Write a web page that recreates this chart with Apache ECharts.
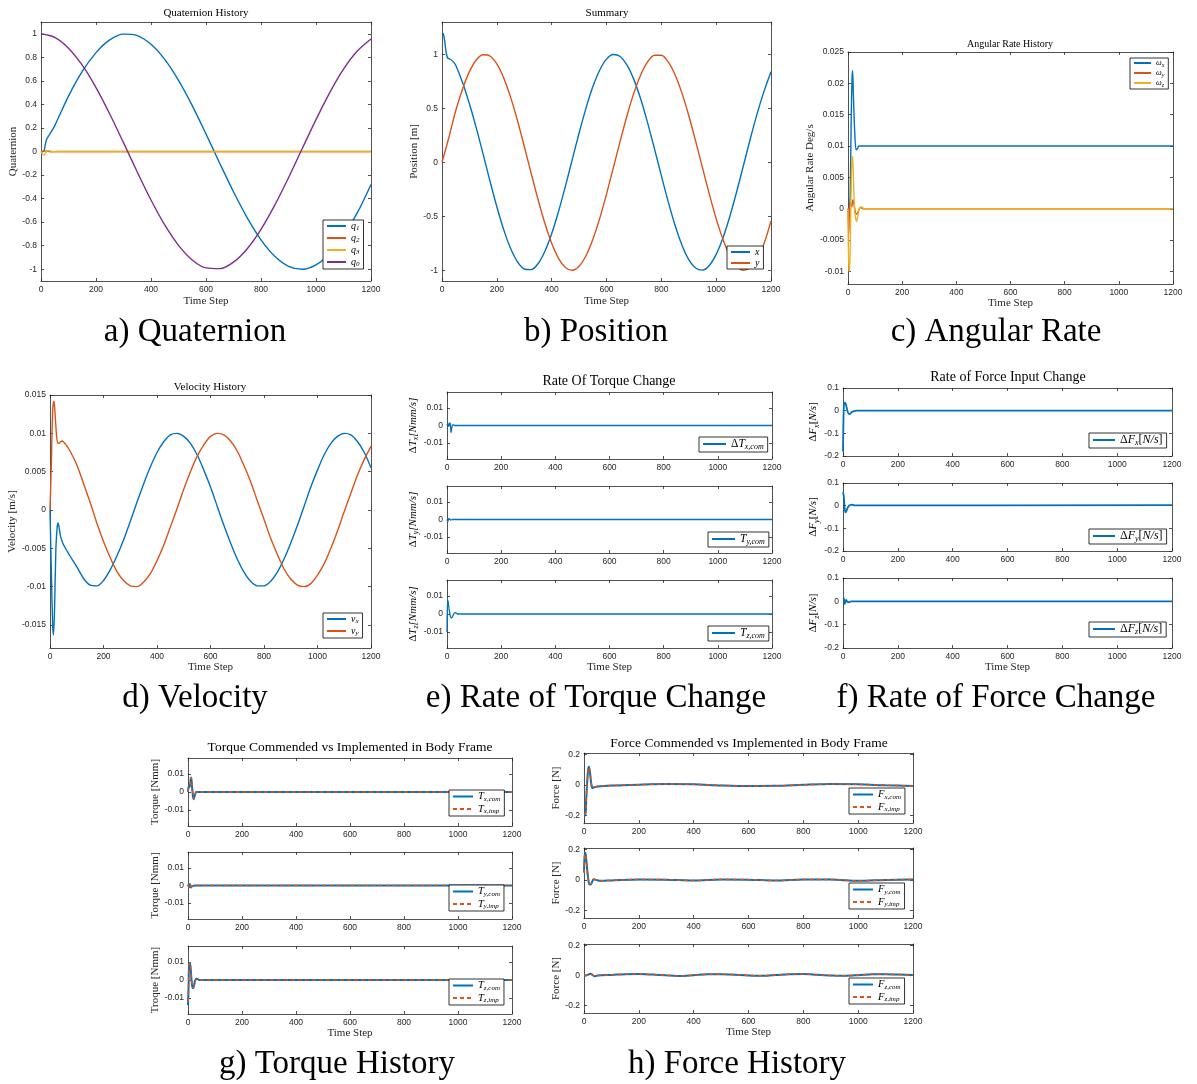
<!DOCTYPE html>
<html><head><meta charset="utf-8">
<script src="https://cdn.jsdelivr.net/npm/echarts@6/dist/echarts.min.js"></script>
<style>html,body{margin:0;padding:0;background:#fff}#c{width:1197px;height:1084px}</style>
</head><body><div id="c"></div>
<script>
// ================= DATA =================
const xTickVals = [0,200,400,600,800,1000,1200];
const quatTicks = [-1,-0.8,-0.6,-0.4,-0.2,0,0.2,0.4,0.6,0.8,1];
const posTicks = [-1,-0.5,0,0.5,1];
const rateTicks = [-0.01,-0.005,0,0.005,0.01,0.015,0.02,0.025];
const velTicks = [-0.015,-0.01,-0.005,0,0.005,0.01,0.015];
const smallTicks = [-0.01,0,0.01];
const dfTicks = [-0.2,-0.1,0,0.1];
const forceTicks = [-0.2,0,0.2];

const T50 = [0,50,100,150,200,250,300,350,400,450,500,550,600,650,700,750,800,850,900,950,1000,1050,1100,1150,1200];
const T100_25 = [100,125,150,175,200,225,250,275,300,325,350,375,400,425,450,475,500,525,550,575,600,625,650,675,700,725,750,775,800,825,850,875,900,925,950,975,1000,1025,1050,1075,1100,1125,1150,1175,1200];

// a) Quaternion
const q0 = [1,0.969,0.878,0.733,0.543,0.319,0.075,-0.174,-0.412,-0.624,-0.797,-0.921,-0.989,-0.995,-0.940,-0.826,-0.662,-0.456,-0.223,0.025,0.271,0.5,0.699,0.853,0.956];
const q1T = [0,5,10,15,20,30,50,100,150,200,250,300,350,400,450,500,550,600,650,700,750,800,850,900,950,1000,1050,1100,1150,1200];
const q1 = [0,-0.003,0,0.05,0.1,0.14,0.22,0.47,0.68,0.84,0.948,0.997,0.985,0.911,0.782,0.604,0.390,0.149,-0.0995,-0.342,-0.563,-0.750,-0.890,-0.975,-1.0,-0.963,-0.866,-0.715,-0.522,-0.28];
const q2T = [0,5,10,20,30,40,60,1200];
const q2 = [0,0.002,0.003,0.004,0,-0.002,0,0];
const q3T = [0,5,10,15,20,25,30,40,50,1200];
const q3 = [0,-0.02,-0.03,-0.02,0,0.008,0.006,0,-0.002,-0.002];

// b) Position
const pxT = [0,5,10,15,20,25,30,40,50,75].concat(T100_25);
const px = [1.2,1.19,1.12,1.02,0.97,0.96,0.955,0.935,0.9,0.74,
  0.542,0.319,0.075,-0.174,-0.412,-0.624,-0.797,-0.921,-0.989,-0.995,-0.940,-0.826,-0.662,-0.456,-0.223,0.025,0.271,0.5,0.699,0.853,0.956,0.999,0.980,0.901,0.766,0.584,0.365,0.124,-0.124,-0.365,-0.584,-0.766,-0.901,-0.980,-0.999,-0.956,-0.853,-0.699,-0.5,-0.271,-0.025,0.223,0.456,0.662,0.84];
const pyT = [0,25,50,75].concat(T100_25);
const py = [0,0.23,0.478,0.680,0.840,0.948,0.997,0.985,0.911,0.782,0.604,0.390,0.149,-0.100,-0.342,-0.563,-0.750,-0.890,-0.975,-1.000,-0.963,-0.866,-0.715,-0.522,-0.295,-0.050,0.198,0.434,0.643,0.812,0.931,0.992,0.992,0.931,0.812,0.643,0.434,0.198,-0.050,-0.295,-0.522,-0.715,-0.866,-0.963,-1.000,-0.975,-0.890,-0.750,-0.545];

// c) Angular rate
const wxT = [0,5,8,12,15,17,20,25,30,35,40,50,1200];
const wx = [0,0.0003,0.002,0.015,0.021,0.022,0.018,0.012,0.0094,0.0096,0.01,0.01,0.01];
const wyT = [0,3,6,10,14,18,22,27,32,38,45,55,1200];
const wy = [0,-0.004,0.0005,0.0009,0.0003,0.0014,0.0008,-0.0005,-0.0009,-0.0004,0.0002,0,0];
const wzT = [0,3,6,9,12,15,17,20,24,28,32,36,42,50,60,1200];
const wz = [0,-0.01,-0.0095,-0.004,0.004,0.0083,0.0082,0.005,0,-0.0015,-0.002,-0.0012,0,0.0003,0,0];

// d) Velocity
const vxT = [0,5,10,13,17,22,27,30,35,40,50,75].concat(T100_25);
const vx = [0,-0.008,-0.015,-0.0163,-0.013,-0.005,-0.0022,-0.0017,-0.0025,-0.0035,-0.0045,-0.006,
  -0.0074,-0.0089,-0.0098,-0.0099,-0.0092,-0.0078,-0.0060,-0.0039,-0.0015,0.0010,0.0034,0.0056,0.0075,0.0089,0.0098,0.0100,0.0096,0.0087,0.0072,0.0052,0.0030,0.0005,-0.0020,-0.0043,-0.0064,-0.0081,-0.0093,-0.0099,-0.0099,-0.0093,-0.0081,-0.0064,-0.0043,-0.0020,0.0005,0.0030,0.0052,0.0072,0.0087,0.0096,0.0100,0.0098,0.0089,0.0075,0.0055];
const vyT = [0,5,10,15,20,25,30,35,40,45,50,60,75].concat(T100_25);
const vy = [0,0.006,0.013,0.0142,0.012,0.0095,0.0087,0.0087,0.0089,0.009,0.0089,0.0085,0.0077,
  0.0059,0.0035,0.0010,-0.0017,-0.0041,-0.0062,-0.0080,-0.0092,-0.0099,-0.0100,-0.0094,-0.0083,-0.0066,-0.0046,-0.0022,0.0002,0.0027,0.0050,0.0070,0.0085,0.0096,0.0100,0.0098,0.0090,0.0077,0.0058,0.0037,0.0012,-0.0012,-0.0037,-0.0058,-0.0077,-0.0090,-0.0098,-0.0100,-0.0096,-0.0085,-0.0070,-0.0050,-0.0027,-0.0002,0.0022,0.0046,0.0066,0.0083];

// e) Rate of torque change
const dTxT = [0,3,6,9,12,15,18,22,28,35,1200];
const dTx = [0,0.001,-0.0005,0.0015,0.001,-0.004,-0.001,0.0005,0,0,0];
const dTyT = [0,3,6,9,14,20,1200];
const dTy = [0,-0.0012,0.0005,0.0004,-0.0003,0,0];
const dTzT = [0,2,4,7,10,13,17,22,27,32,38,1200];
const dTz = [-0.01,0.0075,0.0072,0.0035,0.0005,-0.0015,-0.0022,-0.001,0.0005,0.0008,0,0];

// f) Rate of force change
const dFxT = [0,3,6,10,14,18,22,26,32,40,50,1200];
const dFx = [-0.18,0.02,0.035,0.03,0.01,-0.008,-0.015,-0.014,-0.006,-0.002,0,0];
const dFyT = [0,3,6,9,12,16,20,26,34,44,1200];
const dFy = [0.06,0.04,-0.01,-0.03,-0.025,-0.012,-0.003,0.003,0.004,0.001,0.002];
const dFzT = [0,3,6,9,12,16,22,30,40,1200];
const dFz = [0.015,0.012,-0.012,0.002,0.006,-0.003,-0.004,0,0,0];

// g) Torque history
const TxT = [0,4,7,10,12,15,18,21,25,30,38,1200];
const TxCom = [0,0.004,0.003,0.0075,0.008,0.003,-0.002,-0.004,-0.002,0,0,0];
const TxImp = [0,0.0035,0.0035,0.007,0.0082,0.0035,-0.0015,-0.0038,-0.0022,-0.0002,0,0];
const TyT = [0,4,7,10,14,20,28,1200];
const TyCom = [0.0005,-0.001,0.0008,-0.0012,-0.0005,-0.0002,0,0];
const TyImp = [0.0005,-0.0008,0.0006,-0.001,-0.0006,-0.0003,0,0];
const TzT = [0,2,4,7,10,13,17,21,26,32,36,42,1200];
const TzCom = [-0.014,-0.005,0.0095,0.0095,0.006,0,-0.0045,-0.004,-0.0005,0.0008,0.0005,0,0];
const TzImp = [-0.012,-0.004,0.008,0.0095,0.0065,0.0005,-0.004,-0.0042,-0.001,0.0006,0.0006,0,0];

// h) Force history
const FxT = [0,5,8,11,15,18,22,27,32,38,50,100,200,300,400,500,600,700,800,900,1000,1100,1200];
const FxCom = [-0.2,-0.2,-0.1,0,0.1,0.12,0.08,0,-0.02,-0.015,-0.01,-0.004,0.002,0.006,0.004,-0.003,-0.007,-0.006,0.001,0.006,0.004,-0.002,-0.007];
const FxImp = [-0.19,-0.19,-0.09,0,0.095,0.115,0.08,0.005,-0.018,-0.014,-0.009,-0.004,0.002,0.006,0.004,-0.003,-0.007,-0.006,0.001,0.006,0.004,-0.002,-0.007];
const FyT = [0,3,6,9,12,16,20,25,30,35,45,60,100,200,300,400,500,600,700,800,900,1000,1100,1200];
const FyCom = [0.05,0.18,0.17,0.12,0.06,0,-0.03,-0.03,-0.01,0.005,0,-0.005,-0.003,0.003,0.002,-0.004,0.003,0.002,-0.004,0.003,0.003,-0.006,0,0.003];
const FyImp = [0.045,0.17,0.165,0.12,0.065,0.005,-0.027,-0.028,-0.01,0.004,0,-0.005,-0.003,0.003,0.002,-0.004,0.003,0.002,-0.004,0.003,0.003,-0.006,0,0.003];
const FzT = [0,10,20,25,30,40,50,100,150,200,250,300,350,400,450,500,550,600,650,700,750,800,850,900,950,1000,1050,1100,1150,1200];
const FzCom = [0,0.002,0.01,0.012,0.005,-0.005,0,0.004,0.009,0.01,0.006,0.001,-0.003,0.002,0.008,0.009,0.005,0,-0.002,0.003,0.009,0.01,0.005,0,-0.002,0.002,0.008,0.009,0.006,0.003];
const FzImp = [0,0.002,0.009,0.011,0.005,-0.004,0,0.004,0.009,0.01,0.006,0.001,-0.003,0.002,0.008,0.009,0.005,0,-0.002,0.003,0.009,0.01,0.005,0,-0.002,0.002,0.008,0.009,0.006,0.003];

// ================= STYLE / LAYOUT =================
const SERIF = "'Liberation Serif','DejaVu Serif',serif";
const SANS = "'Liberation Sans',Arial,sans-serif";
const C1='#0072BD', C2='#D95319', C3='#EDB120', C4='#7E2F8E';
const INK='#262626';

function pairs(t,v){return t.map((x,i)=>[x,v[i]]);}
function rich(fs){
  return {
    n:{fontFamily:SERIF,fontSize:fs,color:'#000'},
    m:{fontFamily:SERIF,fontSize:fs,fontStyle:'italic',color:'#000'},
    s:{fontFamily:SERIF,fontSize:Math.round(fs*0.7),fontStyle:'italic',color:'#000',verticalAlign:'bottom',padding:[Math.round(fs*0.5),0,0,0]}
  };
}
const LBL = {
  a_q1:'{m|q}{s|1}', a_q2:'{m|q}{s|2}', a_q3:'{m|q}{s|3}', a_q0:'{m|q}{s|0}',
  b_x:'{m|x}', b_y:'{m|y}',
  c_wx:'{m|ω}{s|x}', c_wy:'{m|ω}{s|y}', c_wz:'{m|ω}{s|z}',
  d_vx:'{m|v}{s|x}', d_vy:'{m|v}{s|y}',
  e_x:'{n|Δ}{m|T}{s|x,com}', e_y:'{m|T}{s|y,com}', e_z:'{m|T}{s|z,com}',
  f_x:'{n|Δ}{m|F}{s|x}{n|[}{m|N/s}{n|]}', f_y:'{n|Δ}{m|F}{s|y}{n|[}{m|N/s}{n|]}', f_z:'{n|Δ}{m|F}{s|z}{n|[}{m|N/s}{n|]}',
  g_xc:'{m|T}{s|x,com}', g_xi:'{m|T}{s|x,imp}', g_yc:'{m|T}{s|y,com}', g_yi:'{m|T}{s|y,imp}', g_zc:'{m|T}{s|z,com}', g_zi:'{m|T}{s|z,imp}',
  h_xc:'{m|F}{s|x,com}', h_xi:'{m|F}{s|x,imp}', h_yc:'{m|F}{s|y,com}', h_yi:'{m|F}{s|y,imp}', h_zc:'{m|F}{s|z,com}', h_zi:'{m|F}{s|z,imp}'
};

const panels = [
  {g:[41,22,330,259], y:[-1.1,1.1], yt:quatTicks, yName:'Quaternion', yGap:19, xName:true, xGap:15, lw:1.4,
   s:[['a_q1',q1T,q1,C1],['a_q2',q2T,q2,C2],['a_q3',q3T,q3,C3],['a_q0',T50,q0,C4]],
   lg:{l:323,t:220,fs:10,iw:19,gap:1}},
  {g:[442,22,329,259], y:[-1.1,1.3], yt:posTicks, yName:'Position [m]', yGap:19, xName:true, xGap:15, lw:1.4,
   s:[['b_x',pxT,px,C1],['b_y',pyT,py,C2]],
   lg:{l:727,t:246,fs:10,iw:19,gap:1}},
  {g:[848,52,325,232], y:[-0.012,0.025], yt:rateTicks, yName:'Angular Rate Deg/s', yGap:25, xName:true, xGap:13, lw:1.4,
   s:[['c_wx',wxT,wx,C1],['c_wy',wyT,wy,C2],['c_wz',wzT,wz,C3]],
   lg:{l:1130,t:58,fs:8,iw:17,gap:1}},
  {g:[50,395,321,253], y:[-0.018,0.015], yt:velTicks, yName:'Velocity [m/s]', yGap:28, xName:true, xGap:14, lw:1.4,
   s:[['d_vx',vxT,vx,C1],['d_vy',vyT,vy,C2]],
   lg:{l:323,t:613,fs:10,iw:19,gap:1}},
  {g:[447,392,325,67], y:[-0.019,0.019], yt:smallTicks, yName:'{n|Δ}{m|T}{s|x}{m|[Nmm/s]}', yGap:25, xName:false, lw:1.3,
   s:[['e_x',dTxT,dTx,C1]], lg:{l:699,t:437,fs:11.5,iw:23,gap:1}},
  {g:[447,486,325,67], y:[-0.019,0.019], yt:smallTicks, yName:'{n|Δ}{m|T}{s|y}{m|[Nmm/s]}', yGap:25, xName:false, lw:1.3,
   s:[['e_y',dTyT,dTy,C1]], lg:{l:708,t:532,fs:11.5,iw:23,gap:1}},
  {g:[447,580,325,68], y:[-0.019,0.019], yt:smallTicks, yName:'{n|Δ}{m|T}{s|z}{m|[Nmm/s]}', yGap:25, xName:true, xGap:13, lw:1.3,
   s:[['e_z',dTzT,dTz,C1]], lg:{l:708,t:626,fs:11.5,iw:23,gap:1}},
  {g:[843,388,329,68], y:[-0.2,0.1], yt:dfTicks, yName:'{n|Δ}{m|F}{s|x}{n|[}{m|N/s}{n|]}', yGap:20, xName:false, lw:1.8,
   s:[['f_x',dFxT,dFx,C1]], lg:{l:1089,t:433,fs:12,iw:22,gap:1}},
  {g:[843,483,329,68], y:[-0.2,0.1], yt:dfTicks, yName:'{n|Δ}{m|F}{s|y}{n|[}{m|N/s}{n|]}', yGap:20, xName:false, lw:1.8,
   s:[['f_y',dFyT,dFy,C1]], lg:{l:1089,t:529,fs:12,iw:22,gap:1}},
  {g:[843,578,329,70], y:[-0.2,0.1], yt:dfTicks, yName:'{n|Δ}{m|F}{s|z}{n|[}{m|N/s}{n|]}', yGap:20, xName:true, xGap:14, lw:1.8,
   s:[['f_z',dFzT,dFz,C1]], lg:{l:1089,t:622,fs:12,iw:22,gap:1}},
  {g:[188,758,324,68], y:[-0.019,0.019], yt:smallTicks, yName:'Torque [Nmm]', yGap:24, xName:false, lw:2,
   s:[['g_xc',TxT,TxCom,C1],['g_xi',TxT,TxImp,C2,1]], lg:{l:449,t:790,fs:10.5,iw:20,gap:1}},
  {g:[188,852,324,67], y:[-0.019,0.019], yt:smallTicks, yName:'Torque [Nmm]', yGap:24, xName:false, lw:2,
   s:[['g_yc',TyT,TyCom,C1],['g_yi',TyT,TyImp,C2,1]], lg:{l:449,t:885,fs:10.5,iw:20,gap:1}},
  {g:[188,946,324,68], y:[-0.019,0.019], yt:smallTicks, yName:'Troque [Nmm]', yGap:24, xName:true, xGap:14, lw:2,
   s:[['g_zc',TzT,TzCom,C1],['g_zi',TzT,TzImp,C2,1]], lg:{l:449,t:979,fs:10.5,iw:20,gap:1}},
  {g:[584,753,329,70], y:[-0.25,0.21], yt:forceTicks, yName:'Force [N]', yGap:19, xName:false, lw:2,
   s:[['h_xc',FxT,FxCom,C1],['h_xi',FxT,FxImp,C2,1]], lg:{l:849,t:788,fs:10.5,iw:20,gap:1}},
  {g:[584,848,329,70], y:[-0.25,0.21], yt:forceTicks, yName:'Force [N]', yGap:19, xName:false, lw:2,
   s:[['h_yc',FyT,FyCom,C1],['h_yi',FyT,FyImp,C2,1]], lg:{l:849,t:883,fs:10.5,iw:20,gap:1}},
  {g:[584,944,329,69], y:[-0.25,0.21], yt:forceTicks, yName:'Force [N]', yGap:19, xName:true, xGap:14, lw:2,
   s:[['h_zc',FzT,FzCom,C1],['h_zi',FzT,FzImp,C2,1]], lg:{l:849,t:978,fs:10.5,iw:20,gap:1}}
];

const texts = [
  {t:'Quaternion History', x:206, y:13, fs:11},
  {t:'Summary', x:607, y:13, fs:11},
  {t:'Angular Rate History', x:1010, y:44, fs:10},
  {t:'Velocity History', x:210, y:387, fs:11},
  {t:'Rate Of Torque Change', x:609, y:381, fs:14},
  {t:'Rate of Force Input Change', x:1008, y:377, fs:14},
  {t:'Torque Commended vs Implemented in Body Frame', x:350, y:747, fs:13.5},
  {t:'Force Commended vs Implemented in Body Frame', x:749, y:743, fs:13.5},
  {t:'a) Quaternion', x:195, y:332, fs:33},
  {t:'b) Position', x:596, y:332, fs:33},
  {t:'c) Angular Rate', x:996, y:332, fs:33},
  {t:'d) Velocity', x:195, y:698, fs:33},
  {t:'e) Rate of Torque Change', x:596, y:698, fs:33},
  {t:'f) Rate of Force Change', x:996, y:698, fs:33},
  {t:'g) Torque History', x:337, y:1064, fs:33},
  {t:'h) Force History', x:737, y:1064, fs:33}
];

// ================= BUILD =================
const option = {animation:false, backgroundColor:'#fff', grid:[], xAxis:[], yAxis:[], series:[], legend:[], graphic:{elements:[]}};
const axLine = {show:true,onZero:false,lineStyle:{color:INK,width:0.8}};
const tick = vals => ({show:true,inside:true,length:3,customValues:vals,lineStyle:{color:INK,width:0.8}});
const fmt = v => String(v);
panels.forEach((p,i)=>{
  const [l,t,w,h] = p.g;
  option.grid.push({left:l,top:t,width:w,height:h,containLabel:false,outerBoundsMode:'none'});
  option.xAxis.push({gridIndex:i,type:'value',position:'bottom',min:0,max:1200,axisLine:axLine,axisTick:tick(xTickVals),
    axisLabel:{show:true,customValues:xTickVals,formatter:fmt,fontFamily:SANS,fontSize:8.5,color:INK,margin:4},splitLine:{show:false},
    name:p.xName?'Time Step':'',nameLocation:'middle',nameGap:p.xGap||14,nameTextStyle:{fontFamily:SERIF,fontSize:11,color:INK}});
  option.xAxis.push({gridIndex:i,type:'value',position:'top',min:0,max:1200,axisLine:axLine,axisTick:tick(xTickVals),
    axisLabel:{show:false},splitLine:{show:false}});
  option.yAxis.push({gridIndex:i,type:'value',position:'left',min:p.y[0],max:p.y[1],axisLine:axLine,axisTick:tick(p.yt),
    axisLabel:{show:true,customValues:p.yt,formatter:fmt,fontFamily:SANS,fontSize:8.5,color:INK,margin:4},splitLine:{show:false},
    name:p.yName,nameLocation:'middle',nameGap:p.yGap,nameRotate:90,
    nameTextStyle:{fontFamily:SERIF,fontSize:11,color:INK,rich:rich(11)}});
  option.yAxis.push({gridIndex:i,type:'value',position:'right',min:p.y[0],max:p.y[1],axisLine:axLine,axisTick:tick(p.yt),
    axisLabel:{show:false},splitLine:{show:false}});
  p.s.forEach(s=>{
    option.series.push({type:'line',name:s[0],xAxisIndex:2*i,yAxisIndex:2*i,data:pairs(s[1],s[2]),
      symbol:'none',showSymbol:false,smooth:0.3,silent:true,
      lineStyle:{color:s[3],width:s[4]?1.5:p.lw,type:s[4]?[4,3]:'solid'},itemStyle:{color:s[3]}});
  });
  const L = p.lg;
  option.legend.push({orient:'vertical',left:L.l,top:L.t,data:p.s.map(s=>s[0]),selectedMode:false,
    formatter:n=>LBL[n],itemWidth:L.iw,itemHeight:9,itemGap:L.gap,padding:[1,4,1,3],
    itemStyle:{opacity:0},
    borderColor:'#000',borderWidth:0.8,borderRadius:0,backgroundColor:'#fff',
    textStyle:{fontFamily:SERIF,fontSize:L.fs,color:'#000',rich:rich(L.fs)}});
});
texts.forEach(tx=>{
  option.graphic.elements.push({type:'text',x:tx.x,y:tx.y,silent:true,
    style:{text:tx.t,fontFamily:SERIF,fontSize:tx.fs,fill:'#000',align:'center',verticalAlign:'middle',textAlign:'center',textVerticalAlign:'middle'}});
});

const chart = echarts.init(document.getElementById('c'),null,{renderer:'canvas'});
chart.setOption(option);
</script></body></html>
